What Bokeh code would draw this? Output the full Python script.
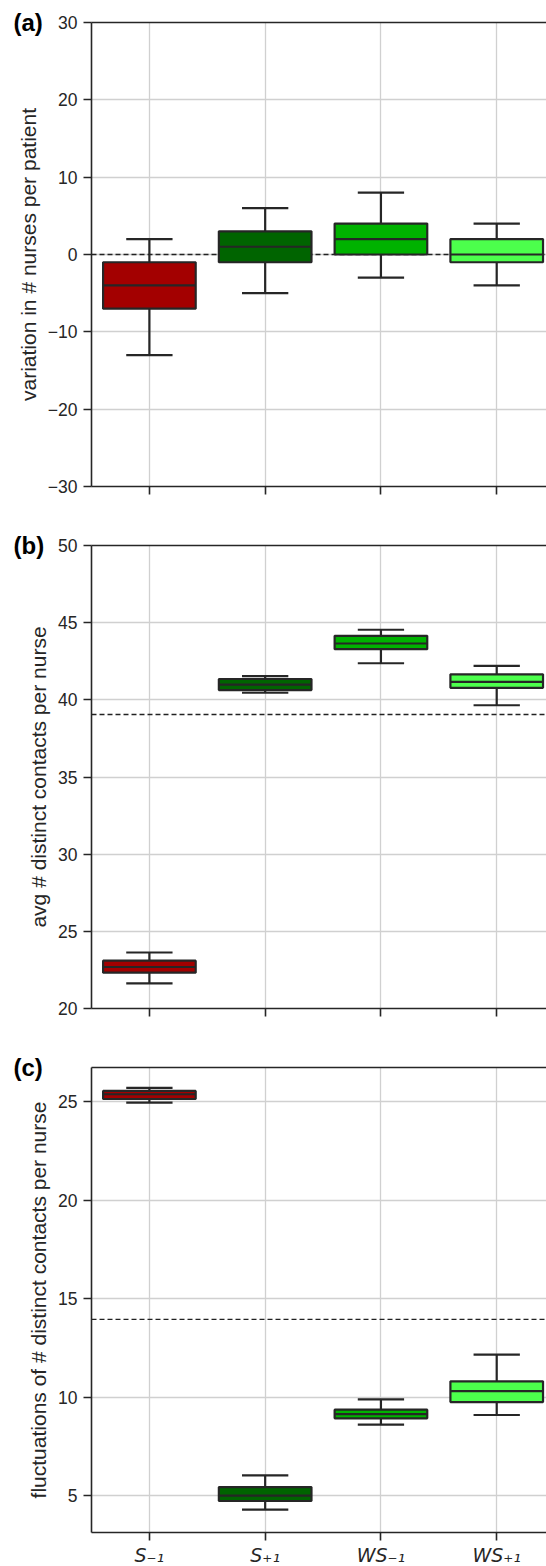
from bokeh.plotting import figure
from bokeh.models import (Range1d, FixedTicker, LinearAxis, Span, ColumnDataSource,
                          CustomLabelingPolicy)
from bokeh.layouts import column
from bokeh.embed import file_html
from bokeh.resources import INLINE

# ---- data ----
categories = ["S₋₁", "S₊₁", "WS₋₁", "WS₊₁"]
box_colors = ["#a30000", "#006400", "#00b200", "#4cff4c"]

# panel (a): variation in # nurses per patient
a_low = [-13, -5, -3, -4]
a_q1 = [-7, -1, 0, -1]
a_med = [-4, 1, 2, 0]
a_q3 = [-1, 3, 4, 2]
a_high = [2, 6, 8, 4]
a_ref = 0.0

# panel (b): avg # distinct contacts per nurse
b_low = [21.63, 40.46, 42.37, 39.65]
b_q1 = [22.32, 40.63, 43.28, 40.78]
b_med = [22.69, 40.98, 43.65, 41.17]
b_q3 = [23.10, 41.35, 44.15, 41.65]
b_high = [23.63, 41.54, 44.54, 42.20]
b_ref = 39.05

# panel (c): fluctuations of # distinct contacts per nurse
c_low = [24.97, 4.28, 8.60, 9.09]
c_q1 = [25.15, 4.72, 8.92, 9.75]
c_med = [25.39, 4.99, 9.14, 10.30]
c_q3 = [25.56, 5.43, 9.36, 10.80]
c_high = [25.71, 6.02, 9.88, 12.16]
c_ref = 13.95

a_yticks = [-30, -20, -10, 0, 10, 20, 30]
b_yticks = [20, 25, 30, 35, 40, 45, 50]
c_yticks = [5, 10, 15, 20, 25]

DARK = "#262626"
GRID = "#d0d0d0"
FONT = "Liberation Sans"

HIDE_LABELS = CustomLabelingPolicy(code="for (const i of [...indices]) indices.unset(i)")


def make_panel(letter, ylabel, yr, yticks, low, q1, med, q3, high, ref,
               top_border, frame_h, bottom_border, show_xlabels):
    p = figure(frame_width=455, frame_height=frame_h,
               x_range=Range1d(-0.5, 3.43), y_range=Range1d(*yr),
               output_backend="svg", toolbar_location=None,
               min_border_left=91, min_border_right=0,
               min_border_top=top_border, min_border_bottom=bottom_border,
               outline_line_color=None,
               background_fill_color="white", border_fill_color="white")

    xs = list(range(len(categories)))
    src = ColumnDataSource(dict(
        x=xs, low=low, q1=q1, med=med, q3=q3, high=high, color=box_colors,
        cap0=[x - 0.2 for x in xs], cap1=[x + 0.2 for x in xs],
        box0=[x - 0.4 for x in xs], box1=[x + 0.4 for x in xs]))

    # reference dashed line (behind boxes)
    p.add_layout(Span(location=ref, dimension="width", line_color="#222222",
                      line_width=1.4, line_dash="5 3", level="underlay"))

    lw = 2.2
    p.segment(x0="x", y0="q3", x1="x", y1="high", source=src, line_color=DARK, line_width=lw)
    p.segment(x0="x", y0="q1", x1="x", y1="low", source=src, line_color=DARK, line_width=lw)
    p.segment(x0="cap0", y0="high", x1="cap1", y1="high", source=src, line_color=DARK, line_width=lw)
    p.segment(x0="cap0", y0="low", x1="cap1", y1="low", source=src, line_color=DARK, line_width=lw)
    p.quad(left="box0", right="box1", bottom="q1", top="q3", source=src,
           fill_color="color", line_color=DARK, line_width=lw)
    p.segment(x0="box0", y0="med", x1="box1", y1="med", source=src, line_color=DARK, line_width=lw)

    # axes
    p.xaxis.ticker = FixedTicker(ticks=xs)
    p.xgrid.ticker = FixedTicker(ticks=xs)
    p.yaxis.ticker = FixedTicker(ticks=yticks)
    p.ygrid.ticker = FixedTicker(ticks=yticks)
    p.grid.grid_line_color = GRID
    p.grid.grid_line_width = 1.3

    for ax in (p.xaxis[0], p.yaxis[0]):
        ax.axis_line_color = DARK
        ax.axis_line_width = 1.6
        ax.major_tick_line_color = DARK
        ax.major_tick_line_width = 1.6
        ax.major_tick_out = 8
        ax.major_tick_in = 0
        ax.minor_tick_line_color = None
        ax.major_label_text_color = DARK

    p.yaxis.major_label_text_font = FONT
    p.yaxis.major_label_text_font_size = "17.5px"
    p.yaxis.major_label_standoff = 6
    p.yaxis.major_label_overrides = {t: ("−%d" % -t) for t in yticks if t < 0}
    p.yaxis.axis_label = ylabel
    p.yaxis.axis_label_text_font = FONT
    p.yaxis.axis_label_text_font_size = "21px"
    p.yaxis.axis_label_text_font_style = "normal"
    p.yaxis.axis_label_text_color = DARK
    p.yaxis.axis_label_standoff = 5

    if show_xlabels:
        p.xaxis.major_label_overrides = {i: c for i, c in enumerate(categories)}
        p.xaxis.major_label_text_font = "DejaVu Sans"
        p.xaxis.major_label_text_font_style = "italic"
        p.xaxis.major_label_text_font_size = "19px"
        p.xaxis.major_label_standoff = 3
    else:
        p.xaxis.major_label_text_font_size = "8px"
        p.xaxis.major_label_standoff = 0
        p.xaxis.major_label_policy = HIDE_LABELS

    top = LinearAxis(ticker=FixedTicker(ticks=[]), major_tick_out=0, major_tick_in=0,
                     minor_tick_out=0, minor_tick_in=0,
                     major_label_text_font_size="8px", major_label_standoff=0,
                     axis_line_color=DARK, axis_line_width=1.6)
    p.add_layout(top, "above")

    # panel letter as a title hugging the frame's top-left corner
    p.title.text = letter
    p.title.align = "left"
    p.title.offset = -78
    p.title.standoff = -26
    p.title.vertical_align = "bottom"
    p.title.text_font = FONT
    p.title.text_font_style = "bold"
    p.title.text_font_size = "24px"
    p.title.text_color = "black"
    return p


pa = make_panel("(a)", "variation in # nurses per patient", (-30, 30), a_yticks,
                a_low, a_q1, a_med, a_q3, a_high, a_ref, 22, 464, 30, False)
pb = make_panel("(b)", "avg # distinct contacts per nurse", (20, 50), b_yticks,
                b_low, b_q1, b_med, b_q3, b_high, b_ref, 29, 463, 30, False)
pc = make_panel("(c)", "fluctuations of # distinct contacts per nurse", (3.12, 26.75), c_yticks,
                c_low, c_q1, c_med, c_q3, c_high, c_ref, 29, 465, 33, True)

layout = column(pa, pb, pc, spacing=0)

open("out.html", "w").write(file_html(layout, INLINE))
